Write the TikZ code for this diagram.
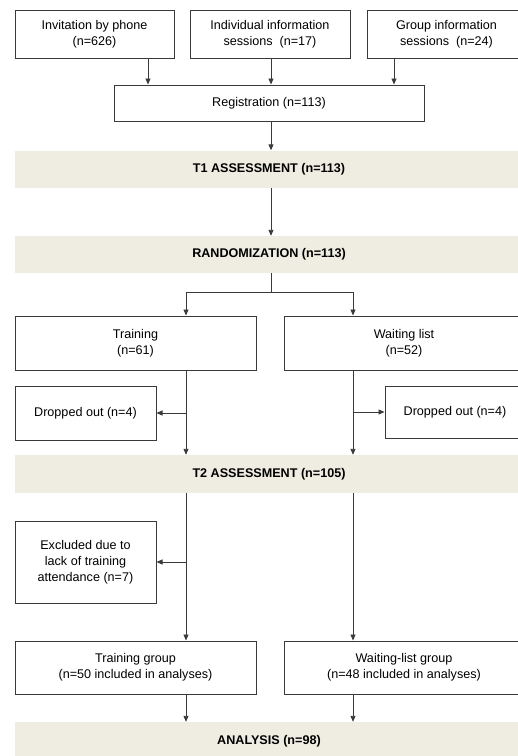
\documentclass[tikz,border=0pt]{standalone}
\usepackage{fontspec}
\setmainfont{Liberation Sans}
\usetikzlibrary{arrows.meta, positioning}

\definecolor{bandfill}{HTML}{EFEDE2}
\definecolor{linegray}{HTML}{3A3A3A}

\begin{document}
\begin{tikzpicture}[x=1pt, y=-1pt,
  font=\fontsize{12.6}{16}\selectfont,
  box/.style={draw=linegray, line width=1pt, fill=white, align=center, inner sep=0pt},
  band/.style={fill=bandfill, draw=none, align=center, inner sep=0pt, minimum width=508pt, font=\fontsize{12.6}{16}\selectfont\bfseries},
  arr/.style={draw=linegray, line width=0.9pt, -{Triangle[length=6pt,width=5pt]}},
  ln/.style={draw=linegray, line width=0.9pt}]
\useasboundingbox (0,0) rectangle (518,756);
\clip (0,0) rectangle (518,756);

% recruitment
\node[box, minimum width=159pt, minimum height=48pt] at (94.5,34) (phone) {Invitation by phone\\(n=626)};
\node[box, minimum width=160pt, minimum height=48pt] at (270,34) (indiv) {Individual information\\sessions\ \ (n=17)};
\node[box, minimum width=159pt, minimum height=48pt] at (446.5,34) (group) {Group information\\sessions\ \ (n=24)};
\node[box, minimum width=310pt, minimum height=36pt] at (269,103) (reg) {Registration (n=113)};

% assessment bands
\node[band, minimum height=37pt] at (269,169) (t1) {T1 ASSESSMENT (n=113)};
\node[band, minimum height=37pt] at (269,254.5) (rand) {RANDOMIZATION (n=113)};
\node[band, minimum height=38pt] at (269,474) (t2) {T2 ASSESSMENT (n=105)};
\node[band, minimum height=38pt] at (269,741) (ana) {ANALYSIS (n=98)};

% groups
\node[box, minimum width=241pt, minimum height=54pt] at (135.5,343) (train) {Training\\(n=61)};
\node[box, minimum width=240pt, minimum height=54pt] at (404,343) (wait) {Waiting list\\(n=52)};
\node[box, minimum width=141pt, minimum height=54pt] at (85.5,413) (drop1) {Dropped out (n=4)};
\node[box, minimum width=140pt, minimum height=52pt] at (455,412) (drop2) {Dropped out (n=4)};
\node[box, minimum width=141pt, minimum height=82pt] at (85.5,562) (excl) {Excluded due to\\lack of training\\attendance (n=7)};
\node[box, minimum width=241pt, minimum height=53pt] at (135.5,667.5) (traingrp) {Training group\\(n=50 included in analyses)};
\node[box, minimum width=240pt, minimum height=53pt] at (404,667.5) (waitgrp) {Waiting-list group\\(n=48 included in analyses)};

% columns of the connectors
\coordinate (c1) at (148,0);
\coordinate (c2) at (271,0);
\coordinate (c3) at (394,0);
\coordinate (lft) at (186,0);
\coordinate (rgt) at (353,0);
\coordinate (split) at (271,292);

\draw[arr] (phone.south -| c1) -- (reg.north -| c1);
\draw[arr] (indiv.south -| c2) -- (reg.north -| c2);
\draw[arr] (group.south -| c3) -- (reg.north -| c3);
\draw[arr] (reg.south -| c2) -- (t1.north -| c2);
\draw[arr] (t1.south -| c2) -- (rand.north -| c2);

\draw[ln] (rand.south -| c2) -- (split);
\draw[arr] (split) -| (train.north -| lft);
\draw[arr] (split) -| (wait.north -| rgt);

\draw[arr] (train.south -| lft) -- (t2.north -| lft);
\draw[arr] (wait.south -| rgt) -- (t2.north -| rgt);
\draw[arr] (drop1.east -| lft) -- (drop1.east);
\draw[arr] (drop2.west -| rgt) -- (drop2.west);

\draw[arr] (t2.south -| lft) -- (traingrp.north -| lft);
\draw[arr] (t2.south -| rgt) -- (waitgrp.north -| rgt);
\draw[arr] (excl.east -| lft) -- (excl.east);

\draw[arr] (traingrp.south -| lft) -- (ana.north -| lft);
\draw[arr] (waitgrp.south -| rgt) -- (ana.north -| rgt);

\end{tikzpicture}
\end{document}
